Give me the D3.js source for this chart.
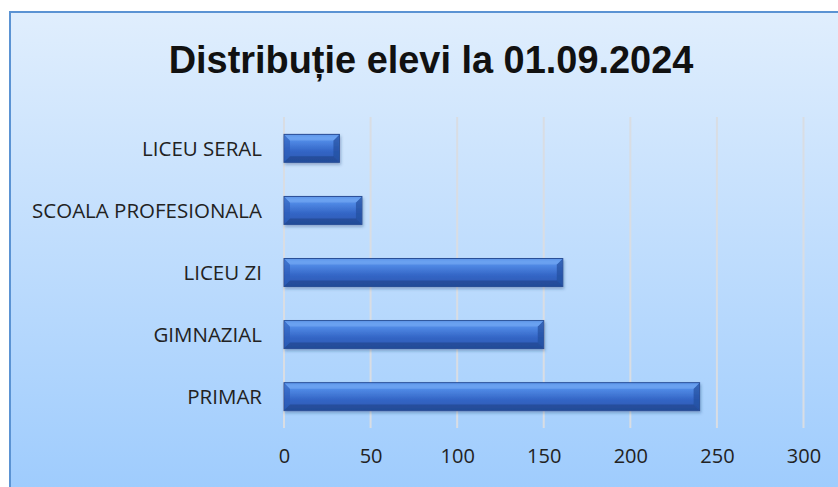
<!DOCTYPE html>
<html>
<head>
<meta charset="utf-8">
<script src="https://cdn.jsdelivr.net/npm/d3@7"></script>
<style>
  body { margin: 0; background: #fff; }
  svg { display: block; }
</style>
</head>
<body>
<svg id="chart" width="838" height="487"></svg>
<script>
// data
const categories = ['LICEU SERAL', 'SCOALA PROFESIONALA', 'LICEU ZI', 'GIMNAZIAL', 'PRIMAR'];
const values = [32, 45, 161, 150, 240];
const ticks = [0, 50, 100, 150, 200, 250, 300];
const title = 'Distribuție elevi la 01.09.2024';

const width = 838, height = 487;
const svg = d3.select('#chart');
const defs = svg.append('defs');

// background gradient
let bg = defs.append('linearGradient').attr('id', 'bg')
  .attr('x1', 0).attr('y1', 0).attr('x2', 0).attr('y2', 1);
bg.append('stop').attr('offset', '0%').attr('stop-color', '#e0eefd');
bg.append('stop').attr('offset', '100%').attr('stop-color', '#9dcbfd');

// bar gradient
let bar = defs.append('linearGradient').attr('id', 'barGrad')
  .attr('x1', 0).attr('y1', 0).attr('x2', 0).attr('y2', 1);
[['0%', '#3f78d8'], ['12%', '#5d97ee'], ['25%', '#4f88e4'], ['60%', '#3466c6'], ['100%', '#2a58b0']]
  .forEach(s => bar.append('stop').attr('offset', s[0]).attr('stop-color', s[1]));

let shadow = defs.append('filter').attr('id', 'shadow')
  .attr('x', '-10%').attr('y', '-30%').attr('width', '120%').attr('height', '180%');
shadow.append('feDropShadow').attr('dx', 1).attr('dy', 2).attr('stdDeviation', 1.5)
  .attr('flood-color', '#1a3a70').attr('flood-opacity', 0.35);

// chart area
svg.append('rect')
  .attr('x', 10).attr('y', 12).attr('width', 840).attr('height', 490)
  .attr('fill', 'url(#bg)')
  .attr('stroke', '#5b93d3').attr('stroke-width', 2);

// title
const t = svg.append('text')
  .attr('x', 431).attr('y', 73)
  .attr('text-anchor', 'middle')
  .attr('font-family', 'Liberation Sans, sans-serif')
  .attr('font-weight', 'bold')
  .attr('font-size', 34)
  .attr('fill', '#111')
  .text(title);
let tw = t.node().getComputedTextLength();
t.attr('font-size', 34 * 525 / tw);

// scales
const x = d3.scaleLinear().domain([0, 300]).range([284, 803.5]);
const y = d3.scaleBand().domain(categories).range([117, 428])
  .paddingInner(0.55).paddingOuter(0.28);

// gridlines
svg.append('g')
  .selectAll('line').data(ticks).join('line')
  .attr('x1', d => x(d)).attr('x2', d => x(d))
  .attr('y1', 117).attr('y2', 428)
  .attr('stroke', '#d9dde3').attr('stroke-width', 2);

// x axis labels
const xAxis = d3.axisBottom(x).tickValues(ticks).tickSize(0).tickPadding(0);
const gx = svg.append('g').attr('transform', 'translate(0,449)').call(xAxis);
gx.select('.domain').remove();
gx.selectAll('text')
  .attr('font-family', 'Open Sans, sans-serif')
  .attr('font-size', 20).attr('fill', '#222');

// y axis labels
const yAxis = d3.axisLeft(y).tickSize(0).tickPadding(0);
const gy = svg.append('g').attr('transform', 'translate(262,0)').call(yAxis);
gy.select('.domain').remove();
gy.selectAll('text')
  .attr('font-family', 'Open Sans, sans-serif')
  .attr('font-size', 20.5).attr('fill', '#222')
  .attr('dy', '0.35em');

// bars
const bh = y.bandwidth();
const bars = svg.append('g').selectAll('g').data(categories).join('g')
  .attr('filter', 'url(#shadow)');

bars.append('rect')
  .attr('x', x(0))
  .attr('y', d => y(d))
  .attr('width', (d, i) => x(values[i]) - x(0))
  .attr('height', bh)
  .attr('fill', 'url(#barGrad)')
  .attr('stroke', '#2a4f96').attr('stroke-width', 1);

// bevel facets at both ends
const bev = 6;
bars.append('path')
  .attr('d', d => {
    let y0 = y(d), x0 = x(0);
    return `M${x0 + 0.5},${y0 + 0.5}L${x0 + bev},${y0 + bev}L${x0 + bev},${y0 + bh - bev}L${x0 + 0.5},${y0 + bh - 0.5}Z`;
  })
  .attr('fill', '#2c5cb8').attr('opacity', 0.6);
bars.append('path')
  .attr('d', (d, i) => {
    let y0 = y(d), x1 = x(values[i]);
    return `M${x1 - 0.5},${y0 + 0.5}L${x1 - bev},${y0 + bev}L${x1 - bev},${y0 + bh - bev}L${x1 - 0.5},${y0 + bh - 0.5}Z`;
  })
  .attr('fill', '#244f9e').attr('opacity', 0.7);
bars.append('path')
  .attr('d', (d, i) => {
    let y0 = y(d), x0 = x(0), x1 = x(values[i]);
    return `M${x0 + 0.5},${y0 + 0.5}L${x1 - 0.5},${y0 + 0.5}L${x1 - bev},${y0 + bev}L${x0 + bev},${y0 + bev}Z`;
  })
  .attr('fill', '#74aaf4').attr('opacity', 0.6);
bars.append('path')
  .attr('d', (d, i) => {
    let y0 = y(d), x0 = x(0), x1 = x(values[i]);
    return `M${x0 + 0.5},${y0 + bh - 0.5}L${x1 - 0.5},${y0 + bh - 0.5}L${x1 - bev},${y0 + bh - bev}L${x0 + bev},${y0 + bh - bev}Z`;
  })
  .attr('fill', '#1f4488').attr('opacity', 0.6);
</script>
</body>
</html>
